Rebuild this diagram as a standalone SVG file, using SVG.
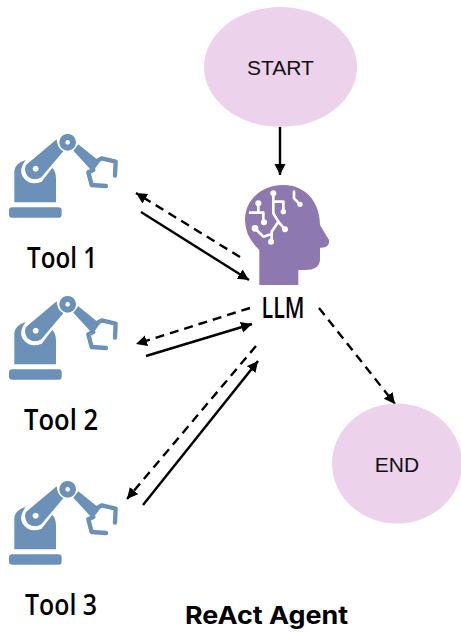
<svg xmlns="http://www.w3.org/2000/svg" width="461" height="632" viewBox="0 0 461 632">
<style>
.hand{font-family:"Open Sans","DejaVu Sans",sans-serif;font-size:29px;font-weight:600;fill:#000;text-anchor:middle}
.lbl{font-family:"Liberation Sans",Arial,sans-serif;font-size:21px;fill:#111;text-anchor:middle}
.el{fill:#edd2ec}
.c{stroke:#000;stroke-width:2.4;fill:none}
.d{stroke-dasharray:9 6}
</style>
<defs>
<marker id="a" markerUnits="userSpaceOnUse" markerWidth="13" markerHeight="12" refX="11" refY="5.500" orient="auto"><path d="M0 0L11 5.500L0 11Z" fill="#000"/></marker>
<symbol id="robot" overflow="visible">
<g transform="scale(.3333)">
<rect x="27" y="262" width="158" height="31" rx="9" fill="#6b91b9"/>
<path d="M43 247V152Q45 130 77 120Q55 150 68 170Q90 200 125 185L157 143Q168 155 168 175V247Z" fill="#6b91b9"/>
<path fill-rule="evenodd" d="M78 135L170 58Q172 85 190 94L124 172Q105 184 84 170Q70 152 78 135ZM107 137a9 9 0 1 0 .1 0Z" fill="#6b91b9"/>
<path fill-rule="evenodd" d="M203 42a25 25 0 1 0 .1 0ZM203 60a7 7 0 1 1 -.1 0Z" fill="#6b91b9"/>
<path d="M235 73L300 125L278 155L220 92Z" fill="#6b91b9"/>
<path d="M293 122L305 115L347 125L345 167M280 150L265 157L275 195L318 198" fill="none" stroke="#6b91b9" stroke-width="13" stroke-linecap="round" stroke-linejoin="round"/>
</g>
</symbol>
</defs>
<g id="connectors">
<path class="c" d="M280 127V175" marker-end="url(#a)"/>
<path class="c d" d="M240 257L136 193" marker-end="url(#a)"/>
<path class="c" d="M141 212L249 280" marker-end="url(#a)"/>
<path class="c d" d="M250 308L136 344" marker-end="url(#a)"/>
<path class="c" d="M146 356L252 324" marker-end="url(#a)"/>
<path class="c d" d="M256 346L127 499" marker-end="url(#a)"/>
<path class="c" d="M143 505L258 361" marker-end="url(#a)"/>
<path class="c d" d="M319 308L395 404" marker-end="url(#a)"/>
</g>
<g id="start"><ellipse class="el" cx="280.500" cy="67" rx="76.500" ry="60"/><text class="lbl" x="280.500" y="75">START</text></g>
<g id="end"><ellipse class="el" cx="397" cy="463.500" rx="65" ry="60"/><text class="lbl" x="397" y="472">END</text></g>
<g id="llm">
<g transform="translate(230 170) scale(.3333)">
<path fill="#8e78b0" d="M88 345V240Q45 200 45 150C45 85 100 45 160 45C230 45 270 100 270 165L297 210Q300 232 275 233H270V270Q268 300 225 300H205V345Z"/>
<g fill="none" stroke="#fff" stroke-width="8" stroke-linecap="round" stroke-linejoin="round">
<path d="M130 70V130L145 155L165 178M145 155L125 185V215M125 192L100 200L80 180M130 95H160V125M85 100V128H60M85 128H100V157M192 65V85L210 103"/>
</g>
<g fill="#fff"><circle cx="130" cy="70" r="9"/><circle cx="165" cy="178" r="9"/><circle cx="123" cy="215" r="9"/><circle cx="75" cy="175" r="10"/><circle cx="160" cy="125" r="8"/><circle cx="85" cy="100" r="9"/><circle cx="102" cy="157" r="9"/><circle cx="210" cy="103" r="8"/></g>
</g>
<text class="hand" x="283" y="318" textLength="43" lengthAdjust="spacingAndGlyphs">LLM</text>
</g>
<g id="tool1"><use href="#robot" x="0" y="120"/><text class="hand" x="62" y="268" textLength="70" lengthAdjust="spacingAndGlyphs">Tool 1</text></g>
<g id="tool2"><use href="#robot" x="0" y="282"/><text class="hand" x="61" y="430" textLength="74" lengthAdjust="spacingAndGlyphs">Tool 2</text></g>
<g id="tool3"><use href="#robot" x="0" y="467"/><text class="hand" x="61" y="615" textLength="72" lengthAdjust="spacingAndGlyphs">Tool 3</text></g>
<g id="title"><text x="266.500" y="624" font-family="Inter,Liberation Sans,Arial,sans-serif" font-weight="700" font-size="24.500" text-anchor="middle" fill="#000" textLength="163" lengthAdjust="spacingAndGlyphs">ReAct Agent</text></g>
</svg>
